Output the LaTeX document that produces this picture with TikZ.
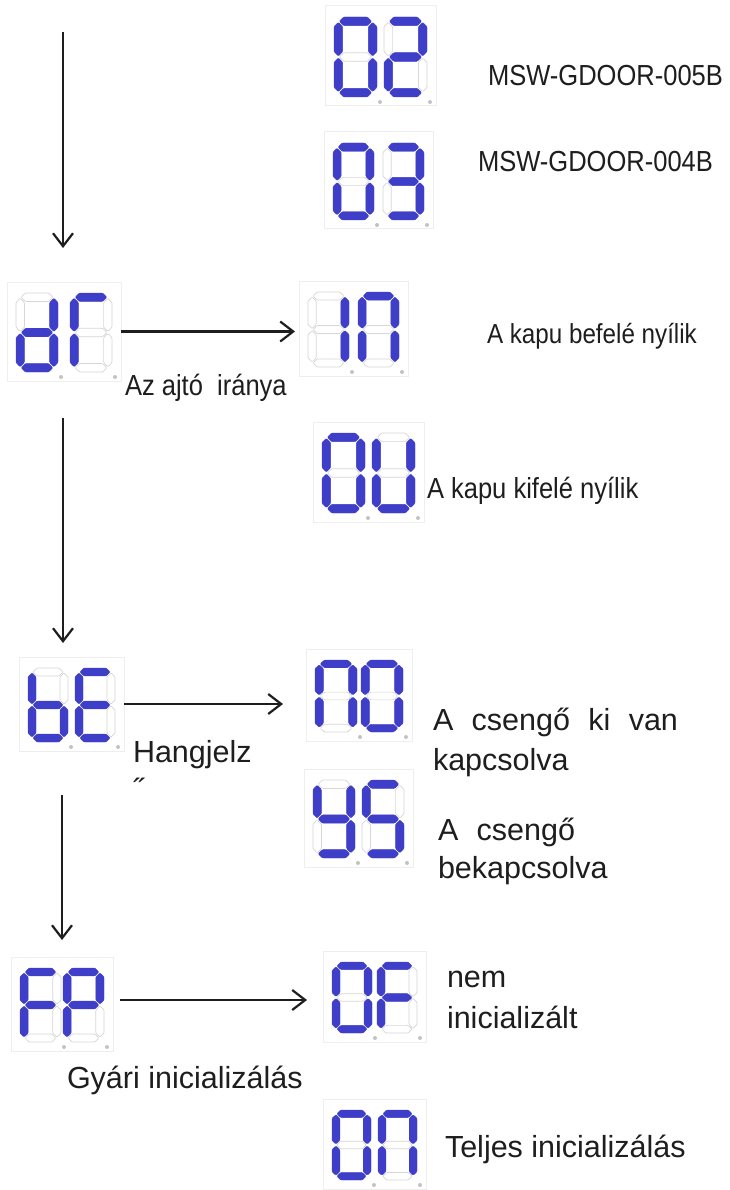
\documentclass[tikz,border=0pt]{standalone}
\usepackage{fontspec}
\setmainfont{Liberation Sans}
\newfontfamily\condf{Liberation Sans}[FakeStretch=0.88]
\usetikzlibrary{arrows.meta}
\definecolor{segblue}{RGB}{62,62,200}
\definecolor{offgray}{RGB}{214,214,214}
\definecolor{framegray}{RGB}{238,238,238}
\definecolor{dotgray}{RGB}{195,195,195}
\definecolor{ink}{RGB}{30,30,30}
\makeatletter
\newcommand\segsel[2]{\in@{#1}{#2}\ifin@\tikzset{cur/.style={segon}}\else\tikzset{cur/.style={segoff}}\fi}
\makeatother
\newcommand\hsegpath[1]{(5.2,#1) -- ++(4.2,-4.2) -- ++(23.2,0) -- ++(4.2,4.2) -- ++(-4.2,4.2) -- ++(-23.2,0) -- cycle}
\newcommand\vsegpath[2]{(#1,#2) -- ++(4.2,4.2) -- ++(0,24.4) -- ++(-4.2,4.2) -- ++(-4.2,-4.2) -- ++(0,-24.4) -- cycle}
\newcommand\onedigit[1]{%
 \segsel{a}{#1}\path[cur] \hsegpath{4.2};
 \segsel{g}{#1}\path[cur] \hsegpath{39};
 \segsel{d}{#1}\path[cur] \hsegpath{73.8};
 \segsel{f}{#1}\path[cur] \vsegpath{4.2}{5.2};
 \segsel{e}{#1}\path[cur] \vsegpath{4.2}{40};
 \segsel{b}{#1}\path[cur] \vsegpath{37.8}{5.2};
 \segsel{c}{#1}\path[cur] \vsegpath{37.8}{40};
}
% #1 name, #2 x, #3 y, #4 digit width, #5 digit height, #6 pitch, #7 segs1, #8 segs2
\newcommand\disp[8]{%
 \node[dispframe, minimum width={#6+#4+18}, minimum height={#5+20}] (#1) at ({#2-9},{#3-11}) {};
 \begin{scope}[shift={(#2,#3)}, xscale=#4/42, yscale=#5/78]\onedigit{#7}\end{scope}
 \begin{scope}[shift={({#2+#6},#3)}, xscale=#4/42, yscale=#5/78]\onedigit{#8}\end{scope}
 \fill[dotgray] ({#2+#4+3},{#3+#5+5}) circle (2pt);
 \fill[dotgray] ({#2+#6+#4+3},{#3+#5+5}) circle (2pt);
}
\tikzset{
 segon/.style={fill=segblue, draw=segblue, line width=0.4pt, rounded corners=0.9pt},
 segoff/.style={fill=white, draw=offgray, line width=0.7pt, rounded corners=0.9pt},
 dispframe/.style={draw=framegray, line width=1pt, anchor=north west, inner sep=0pt, outer sep=0pt},
 arr/.style={draw=ink, line width=2.2pt, -{Straight Barb[length=13pt,width=20pt,line width=2.2pt]}},
 lbl/.style={anchor=base west, inner sep=0pt, outer sep=0pt, text=ink, font=\fontsize{30.5}{36}\selectfont},
 clbl/.style={anchor=base west, inner sep=0pt, outer sep=0pt, text=ink, font=\condf\fontsize{29}{34}\selectfont},
}
\begin{document}
\begin{tikzpicture}[x=1pt,y=-1pt]
\fill[white] (0,0) rectangle (729,1190);
\useasboundingbox (0,0) rectangle (729,1190);
% displays
\disp{d02}{334}{17}{43}{80}{50}{abcdef}{abged}
\disp{d03}{333}{143}{41}{77}{50}{abcdef}{abgcd}
\disp{ddr}{16}{293}{42}{79}{54}{bcdeg}{aef}
\disp{dIn}{308}{292}{41}{75}{50}{bc}{abcef}
\disp{dOU}{322}{433}{43}{80}{50}{abcdef}{bcdef}
\disp{dbE}{28}{668}{40}{74}{47}{cdefg}{afged}
\disp{dnO}{315}{660}{42}{72}{46}{abcef}{abcdef}
\disp{dYS}{313}{780}{42}{78}{49}{bcdfg}{afgcd}
\disp{dFP}{20}{968}{41}{74}{43}{aefg}{abefg}
\disp{dOF}{332}{962}{40}{71}{45}{abcdef}{aefg}
\disp{dOn}{332}{1110}{39}{70}{46}{abcdef}{abcef}
% connectors
\coordinate (s0) at (63,32);
\draw[arr, shorten >=34pt] (s0) -- (s0 |- ddr.north);
\draw[arr, shorten >=4pt] (ddr.east) -- (ddr.east -| dIn.west);
\draw[arr, shorten <=37pt, shorten >=14pt] (s0 |- ddr.south) -- (s0 |- dbE.north);
\draw[arr, shorten >=23pt] (dbE.east) -- (dbE.east -| dnO.west);
\coordinate (s1) at (62,800);
\draw[arr, shorten <=44pt, shorten >=17pt] (s1 |- dbE.south) -- (s1 |- dFP.north);
\draw[arr, shorten <=7pt, shorten >=16pt] ([yshift=4pt]dFP.east) -- ([yshift=4pt]dFP.east -| dOF.west);
% labels
\node[clbl] (t005) at (488,86) {MSW-GDOOR-005B};
\node[clbl] (t004) at (478,172) {MSW-GDOOR-004B};
\node[clbl] (tdir) at (125,395) {Az ajtó~ iránya};
\node[clbl, font=\condf\fontsize{27.5}{32}\selectfont] (tin) at (487,343) {A kapu befelé nyílik};
\node[clbl] (tout) at (427,498) {A kapu kifelé nyílik};
\node[lbl] (thang) at (133,762) {Hangjelz};
\node[lbl] (thang2) at (133,800) {˝};
\node[lbl] (toff1) at (433,730) {\makebox[245pt][s]{A csengő ki van}};
\node[lbl] (toff2) at (433,770) {kapcsolva};
\node[lbl] (ton1) at (438,840) {\makebox[137pt][s]{A csengő}};
\node[lbl] (ton2) at (438,878) {bekapcsolva};
\node[lbl] (tnem1) at (447,987) {nem};
\node[lbl] (tnem2) at (447,1028) {inicializált};
\node[lbl] (tfp) at (67,1088) {Gyári inicializálás};
\node[lbl] (tfull) at (445,1157) {Teljes inicializálás};
\end{tikzpicture}
\end{document}
